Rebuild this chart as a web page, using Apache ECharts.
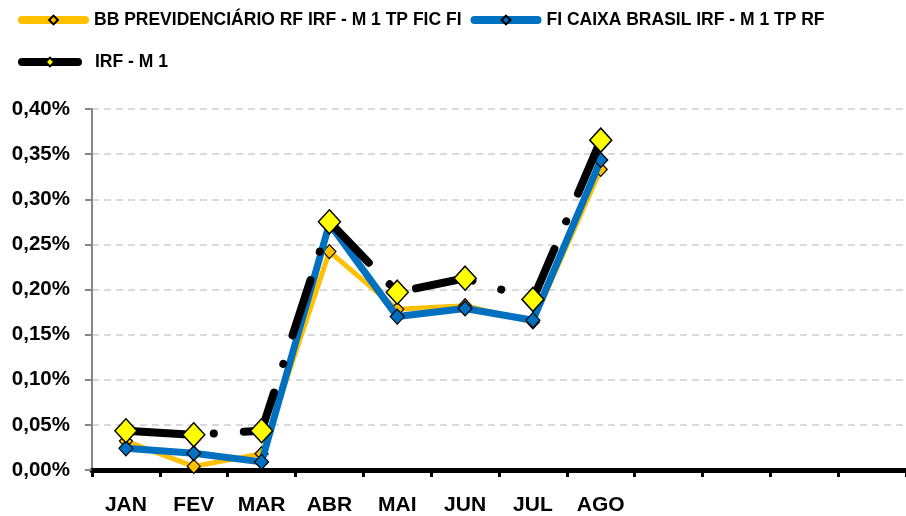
<!DOCTYPE html>
<html>
<head>
<meta charset="utf-8">
<script src="https://cdn.jsdelivr.net/npm/echarts@6/dist/echarts.min.js"></script>
<style>
html, body { margin: 0; padding: 0; background: #fff; }
#chart { width: 906px; height: 516px; }
</style>
</head>
<body>
<div id="chart"></div>
<script>
// meses (os 4 últimos ficam sem rótulo)
const months = ['JAN', 'FEV', 'MAR', 'ABR', 'MAI', 'JUN', 'JUL', 'AGO', '', '', '', ''];
// rentabilidade mensal em %
const bbPrev = [0.032, 0.004, 0.018, 0.242, 0.178, 0.182, 0.164, 0.333];
const caixaBrasil = [0.024, 0.0185, 0.009, 0.273, 0.170, 0.179, 0.166, 0.3435];
const irfM1 = [0.0435, 0.039, 0.0435, 0.275, 0.197, 0.2125, 0.189, 0.3655];
const yTicks = { min: 0, max: 0.4, interval: 0.05 };

const font = 'Liberation Sans, Arial, sans-serif';
const chart = echarts.init(document.getElementById('chart'));

const legendBase = {
    left: 18,
    padding: 0,
    itemWidth: 63,
    itemHeight: 11,
    itemGap: 9,
    textStyle: { fontFamily: font, fontSize: 17.5, fontWeight: 'bold', color: '#000', padding: [0, 0, 0, 4] },
    lineStyle: { width: 8, cap: 'round', type: 'solid' }
};

chart.setOption({
    animation: false,
    legend: [
        Object.assign({}, legendBase, { top: 11, data: ['BB PREVIDENCIÁRIO RF IRF - M 1 TP FIC FI', 'FI CAIXA BRASIL IRF - M 1 TP RF'] }),
        Object.assign({}, legendBase, { top: 53, itemWidth: 56, textStyle: Object.assign({}, legendBase.textStyle, { padding: [0, 0, 0, 12] }), data: ['IRF - M 1'] })
    ],
    grid: {
        left: 92,
        top: 109,
        width: 816,
        height: 361,
        containLabel: false
    },
    xAxis: {
        type: 'category',
        data: months,
        boundaryGap: true,
        axisLine: { lineStyle: { color: '#000', width: 5 } },
        axisTick: { show: true, length: 7, lineStyle: { color: '#000', width: 3 }, alignWithLabel: false },
        axisLabel: {
            fontFamily: font,
            fontSize: 21,
            fontWeight: 'bold',
            color: '#000',
            margin: 25,
            interval: 0
        },
        splitLine: { show: false }
    },
    yAxis: {
        type: 'value',
        min: yTicks.min,
        max: yTicks.max,
        interval: yTicks.interval,
        axisLine: { show: true, lineStyle: { color: '#868686', width: 2 } },
        axisTick: { show: true, length: 7, lineStyle: { color: '#868686', width: 2 } },
        axisLabel: {
            fontFamily: font,
            fontSize: 20.5,
            fontWeight: 'bold',
            color: '#000',
            margin: 22,
            formatter: v => v.toFixed(2).replace('.', ',') + '%'
        },
        splitLine: { show: true, lineStyle: { color: '#D9D9D9', width: 2, type: [7, 5] } }
    },
    series: [
        {
            name: 'BB PREVIDENCIÁRIO RF IRF - M 1 TP FIC FI',
            type: 'line',
            data: bbPrev,
            symbol: 'diamond',
            symbolSize: [13, 14],
            lineStyle: { color: '#FFC000', width: 5 },
            itemStyle: { color: '#FFC000', borderColor: '#000', borderWidth: 1.2 },
            z: 2
        },
        {
            name: 'FI CAIXA BRASIL IRF - M 1 TP RF',
            type: 'line',
            data: caixaBrasil,
            symbol: 'diamond',
            symbolSize: [14, 15],
            lineStyle: { color: '#0070C0', width: 7 },
            itemStyle: { color: '#0070C0', borderColor: '#000', borderWidth: 1.2 },
            z: 3
        },
        {
            name: 'IRF - M 1',
            type: 'line',
            data: irfM1,
            symbol: 'diamond',
            symbolSize: [22, 24],
            lineStyle: { color: '#000', width: 8, type: [58, 30, 0.1, 30], cap: 'round' },
            itemStyle: { color: '#FFFF00', borderColor: '#000', borderWidth: 1.5 },
            z: 4
        }
    ]
});
</script>
</body>
</html>
